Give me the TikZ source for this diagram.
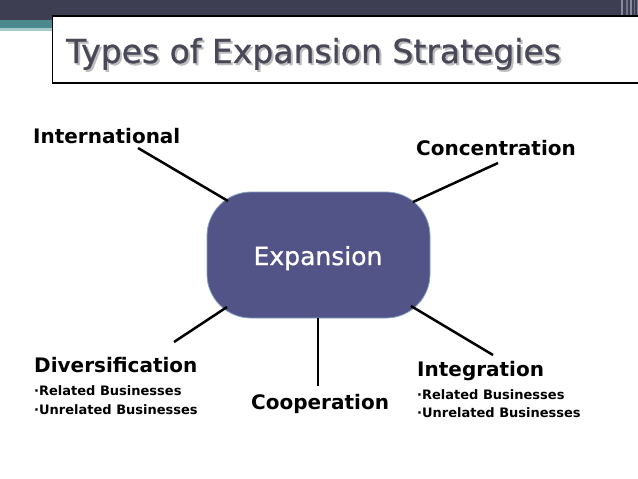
\documentclass[tikz,border=0pt]{standalone}
\usepackage{fontspec}
\setmainfont{DejaVu Sans}
\newfontfamily\thickfont[FakeBold=0.8]{DejaVu Sans}
\definecolor{barcol}{HTML}{3E3E52}
\definecolor{barlight}{HTML}{8A8A9C}
\definecolor{teal1}{HTML}{4A8A8E}
\definecolor{teal2}{HTML}{A7CACB}
\definecolor{boxfill}{HTML}{525488}
\definecolor{boxedge}{HTML}{86A2C4}
\definecolor{titlecol}{HTML}{484858}
\definecolor{shadowcol}{HTML}{BDBDBD}
\begin{document}
\begin{tikzpicture}[x=1pt,y=-1pt,
  lbl/.style={font=\bfseries\fontsize{20}{24}\selectfont, anchor=base west, inner sep=0pt},
  sub/.style={font=\bfseries\fontsize{13}{16}\selectfont, anchor=base west, inner sep=0pt},
  conn/.style={line width=2.5pt, black},
  titletext/.style={font=\thickfont\fontsize{33}{40}\selectfont, anchor=base west, inner sep=0pt}]
\useasboundingbox (0,0) rectangle (638,479);
\fill[white] (0,0) rectangle (638,479);
% top bar
\fill[barcol] (0,0) rectangle (638,20);
\fill[barlight] (621,0) rectangle (623,16);
\fill[barlight!70!barcol] (626,0) rectangle (628,16);
\fill[barlight] (630,0) rectangle (631.5,16);
\fill[barlight!60!barcol] (633.5,0) rectangle (635,16);
\fill[barlight!80!barcol] (636.5,0) rectangle (638,16);
\fill[teal1] (0,20) rectangle (52,28);
\fill[teal2] (0,28) rectangle (52,31);
% title box
\draw[line width=1.2pt, fill=white] (52.6,16) rectangle (641,83);
\node[titletext, text=titlecol] (title) at (66,63)
  {\rlap{\raisebox{-2pt}{\hspace{2pt}\color{shadowcol}Types of Expansion Strategies}}Types of Expansion Strategies};
% central box
\node[draw=boxedge, line width=0.8pt, fill=boxfill, rounded corners=44pt,
      minimum width=223pt, minimum height=126pt, inner sep=0pt] (exp) at (318.5,255) {};
\node[font=\thickfont\fontsize{25}{30}\selectfont, text=white, anchor=base, inner sep=0pt] (explabel) at (318,265) {Expansion};
% labels
\node[lbl] (intl) at (33,143) {International};
\node[lbl] (conc) at (416,155) {Concentration};
\node[lbl] (div) at (34,372) {Diversification};
\node[sub] (div1) at (34,395) {·Related Businesses};
\node[sub] (div2) at (34,414) {·Unrelated Businesses};
\node[lbl] (coop) at (251,409) {Cooperation};
\node[lbl] (integ) at (417,376) {Integration};
\node[sub] (integ1) at (417,399) {·Related Businesses};
\node[sub] (integ2) at (417,417) {·Unrelated Businesses};
% connector ends
\coordinate (a1) at (138,148); \coordinate (a2) at (228,201);
\coordinate (b1) at (498,163); \coordinate (b2) at (413,202);
\coordinate (c1) at (174,342); \coordinate (c2) at (227,307);
\coordinate (d1) at (318,318); \coordinate (d2) at (318,386);
\coordinate (e1) at (493,355); \coordinate (e2) at (411,306);
\draw[conn] (a1) -- (a2);
\draw[conn] (b1) -- (b2);
\draw[conn] (c1) -- (c2);
\draw[conn] (d1) -- (d2);
\draw[conn] (e1) -- (e2);
\end{tikzpicture}
\end{document}
